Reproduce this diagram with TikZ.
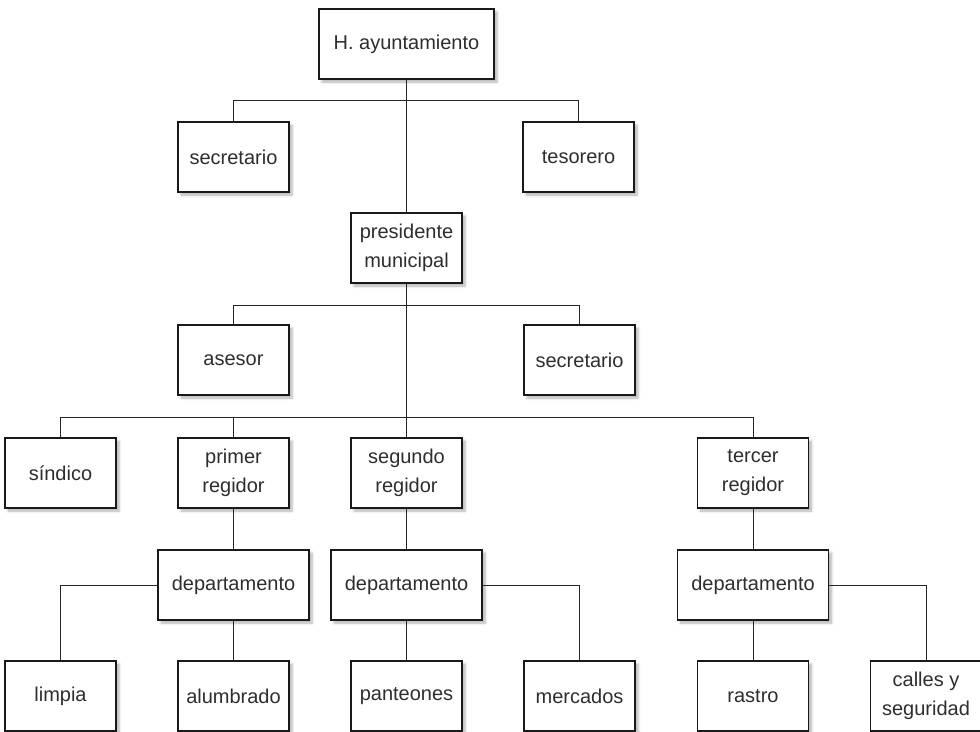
\documentclass[tikz,border=0pt]{standalone}
\usepackage{fontspec}
\setmainfont{Liberation Sans}
\usetikzlibrary{shadows.blur}
\definecolor{txt}{HTML}{2E2E2E}
\begin{document}
\begin{tikzpicture}[x=1pt,y=-1pt,
  box/.style={draw=black!90, line width=1.6pt, fill=white, minimum width=111pt, minimum height=70pt,
    inner sep=0pt, align=center, text=txt, font=\fontsize{20}{29}\selectfont,
    blur shadow={shadow xshift=3pt, shadow yshift=-3pt, shadow blur steps=6, shadow blur radius=2.5pt, shadow opacity=30}},
  wide/.style={box, minimum width=151pt},
  conn/.style={draw=black!85, line width=0.9pt}]
\useasboundingbox (0,0) rectangle (980,731);
\node[box, minimum width=175pt] (ayunt) at (406.5,44) {H. ayuntamiento};
\node[box] (sec1) at (233.5,157) {secretario};
\node[box] (tes) at (578.5,157) {tesorero};
\node[box] (pres) at (406.5,248) {presidente\\municipal};
\node[box] (ases) at (233.5,360) {asesor};
\node[box] (sec2) at (579.5,360) {secretario};
\node[box] (sind) at (60.5,473) {síndico};
\node[box] (prim) at (233.5,473) {primer\\regidor};
\node[box] (seg) at (406.5,473) {segundo\\regidor};
\node[box] (terc) at (753,473) {tercer\\regidor};
\node[wide] (dep1) at (233.5,585) {departamento};
\node[wide] (dep2) at (406.5,585) {departamento};
\node[wide] (dep3) at (753,585) {departamento};
\node[box] (limp) at (60.5,696) {limpia};
\node[box] (alum) at (233.5,696) {alumbrado};
\node[box] (pant) at (406.5,696) {panteones};
\node[box] (merc) at (579.5,696) {mercados};
\node[box] (rast) at (753,696) {rastro};
\node[box] (call) at (926,696) {calles y\\seguridad};
\coordinate (j1) at (406.5,100);
\coordinate (j2) at (406.5,305);
\coordinate (j3) at (406.5,417);
\draw[conn] (ayunt.south) -- (pres.north);
\draw[conn] (j1) -| (sec1.north);
\draw[conn] (j1) -| (tes.north);
\draw[conn] (pres.south) -- (seg.north);
\draw[conn] (j2) -| (ases.north);
\draw[conn] (j2) -| (sec2.north);
\draw[conn] (j3) -| (sind.north);
\draw[conn] (j3) -| (prim.north);
\draw[conn] (j3) -| (terc.north);
\draw[conn] (prim.south) -- (dep1.north);
\draw[conn] (dep1.south) -- (alum.north);
\draw[conn] (dep1.west) -| (limp.north);
\draw[conn] (seg.south) -- (dep2.north);
\draw[conn] (dep2.south) -- (pant.north);
\draw[conn] (dep2.east) -| (merc.north);
\draw[conn] (terc.south) -- (dep3.north);
\draw[conn] (dep3.south) -- (rast.north);
\draw[conn] (dep3.east) -| (call.north);
\end{tikzpicture}
\end{document}
